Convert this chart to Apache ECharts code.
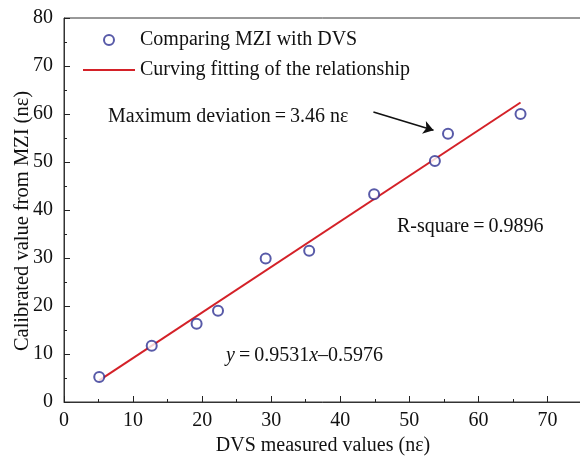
<!DOCTYPE html>
<html>
<head>
<meta charset="utf-8">
<script src="https://cdn.jsdelivr.net/npm/echarts@6/dist/echarts.min.js"></script>
<style>html,body{margin:0;padding:0;background:#fff}#c{width:580px;height:459px}</style>
</head>
<body>
<div id="c"></div>
<script>
// Measured points: DVS (x) vs MZI calibrated (y)
var dvsValues = [5.1, 12.7, 19.2, 22.3, 29.2, 35.5, 44.9, 53.7, 55.6, 66.1];
var mziValues = [5.2, 11.7, 16.3, 19.0, 29.9, 31.5, 43.3, 50.2, 55.9, 60.0];
// Fitted line
var fitX = [5.1, 66.1];
var fitY = [4.5, 62.4];
// Arrow (data coords) pointing to max deviation point
var arrowFrom = [44.8, 60.4];
var arrowTo = [53.5, 56.6];
var xTicks = [0, 10, 20, 30, 40, 50, 60, 70];
var yTicks = [0, 10, 20, 30, 40, 50, 60, 70, 80];
var seriesNames = ['Comparing MZI with DVS', 'Curving fitting of the relationship'];

var FONT = '"Liberation Serif","Times New Roman",serif';
var FS = 20;
var chart = echarts.init(document.getElementById('c'), null, {renderer: 'canvas'});
var scatterData = dvsValues.map(function (x, i) { return [x, mziValues[i]]; });
var lineData = fitX.map(function (x, i) { return [x, fitY[i]]; });

var axisText = {color: '#111', fontFamily: FONT, fontSize: FS};
chart.setOption({
  backgroundColor: '#fff',
  animation: false,
  grid: {left: 64, right: -2, top: 18, bottom: 57, show: true, borderColor: '#333', borderWidth: 1,
         containLabel: false, outerBoundsMode: 'none'},
  legend: {
    orient: 'vertical', left: 78, top: 25, itemWidth: 52, itemHeight: 10, itemGap: 10,
    textStyle: {color: '#111', fontFamily: FONT, fontSize: FS, lineHeight: 20},
    data: [
      {name: seriesNames[0], icon: 'emptyCircle'},
      {name: seriesNames[1], icon: 'path://M0,0L50,0L50,2L0,2Z'}
    ]
  },
  xAxis: [{
    type: 'value', min: 0, max: 75, interval: 5,
    name: 'DVS measured values (n\u03b5)', nameLocation: 'middle', nameGap: 34,
    nameTextStyle: axisText,
    axisLine: {lineStyle: {color: '#333', width: 1}},
    axisTick: {inside: true, length: 3, lineStyle: {color: '#222'}},
    axisLabel: Object.assign({margin: 9, formatter: function (v) { return xTicks.indexOf(v) >= 0 ? String(v) : ''; }}, axisText),
    splitLine: {show: false}
  }, {
    type: 'value', min: 0, max: 75, interval: 10, position: 'bottom',
    axisLine: {show: false},
    axisTick: {inside: true, length: 6, lineStyle: {color: '#222'}},
    axisLabel: {show: false}, splitLine: {show: false}
  }],
  yAxis: {
    type: 'value', min: 0, max: 80, interval: 10,
    name: 'Calibrated value from MZI (n\u03b5)', nameLocation: 'middle', nameGap: 31, nameRotate: 90,
    nameMoveOverlap: false,
    nameTextStyle: Object.assign({}, axisText, {fontSize: 20.5, padding: [0, 22, 0, 0]}),
    axisLine: {show: true, lineStyle: {color: '#333', width: 1}},
    axisTick: {inside: true, length: 6, lineStyle: {color: '#222'}},
    minorTick: {show: true, splitNumber: 2, length: 3, lineStyle: {color: '#222'}},
    axisLabel: Object.assign({margin: 11, formatter: function (v) { return yTicks.indexOf(v) >= 0 ? String(v) : ''; }}, axisText),
    splitLine: {show: false}
  },
  series: [{
    name: seriesNames[0], type: 'scatter', data: scatterData, z: 3,
    symbol: 'emptyCircle', symbolSize: 10,
    itemStyle: {color: '#2e3192', borderColor: '#2e3192', borderWidth: 1.6}
  }, {
    name: seriesNames[1], type: 'line', data: lineData, symbol: 'none',
    lineStyle: {color: '#d42128', width: 2}, itemStyle: {color: '#d42128'},
    markLine: {
      silent: true, symbol: ['none', 'arrow'], symbolSize: 10,
      lineStyle: {color: '#111', width: 1.6, type: 'solid'}, label: {show: false},
      data: [[{coord: arrowFrom}, {coord: arrowTo}]]
    }
  }],
  graphic: [
    {type: 'text', left: 108, top: 107, style: {text: 'Maximum deviation\u2009=\u20093.46 n\u03b5', fill: '#111', font: FS + 'px ' + FONT}},
    {type: 'text', left: 397, top: 217, style: {text: 'R-square\u2009=\u20090.9896', fill: '#111', font: FS + 'px ' + FONT}},
    {type: 'text', left: 226, top: 346, style: {
      text: '{i|y}\u2009=\u20090.9531{i|x}\u20130.5976', fill: '#111', font: FS + 'px ' + FONT,
      rich: {i: {fontStyle: 'italic', fontFamily: FONT, fontSize: FS, fill: '#111'}}
    }}
  ]
});
</script>
</body>
</html>
